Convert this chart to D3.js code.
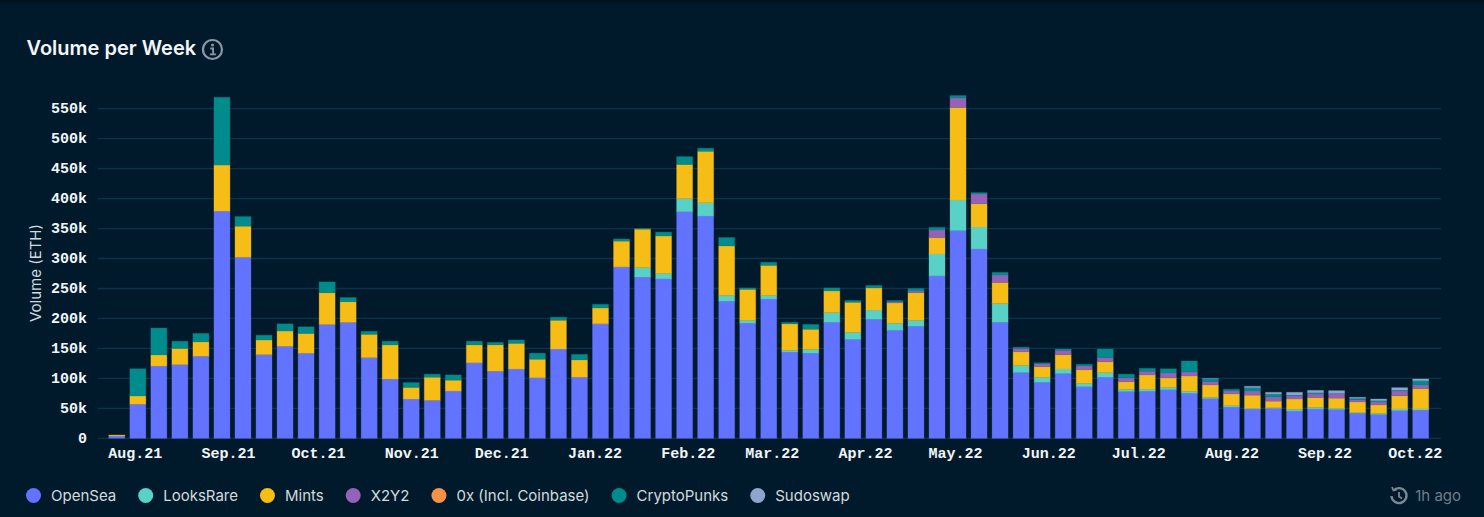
<!DOCTYPE html>
<html>
<head>
<meta charset="utf-8">
<script src="https://cdn.jsdelivr.net/npm/d3@7"></script>
<style>
    html, body { margin: 0; padding: 0; background: #001a2c; }
    svg { display: block; }
</style>
</head>
<body>
<div id="chart"></div>
<script>
// Volume per week, stacked by marketplace. All values in thousand ETH.
const firstWeek = '2021-07-26';
const seriesNames = ['OpenSea', 'LooksRare', 'Mints', 'X2Y2', '0x (Incl. Coinbase)', 'CryptoPunks', 'Sudoswap'];
const seriesColors = ['#6173ff', '#5ad1c6', '#f6bd16', '#9661b8', '#f79145', '#008c8c', '#8fa5d0'];

const openSea = [4, 57, 120.7, 123, 137, 379, 302, 139.6, 153.5, 142, 190, 193.5, 134.6, 99, 65.6, 63.4, 79, 126, 112, 115.7, 101, 149, 102, 191, 286, 269, 266, 378, 371, 228.6, 192, 232.5, 144, 142, 193.5, 165, 198.5, 180, 187, 271, 346.5, 316, 193.5, 109.6, 93.4, 108, 86, 101.8, 77.9, 78.4, 81, 75, 66, 52, 49, 50, 45.6, 49, 47.8, 41.7, 39.5, 46, 47];
const looksRare = [0, 0, 0, 0, 0, 0, 0, 0, 0, 0, 0, 0, 0, 0, 0, 0, 0, 0, 0, 0, 0, 0, 0, 0, 0, 16, 9, 22, 22, 10, 5, 6.1, 3, 6.5, 16.2, 12, 15.5, 12, 10, 36.6, 51.2, 36.6, 31.5, 12.2, 8.4, 7.7, 5.8, 7.8, 3.9, 3.6, 4, 3.4, 2.4, 2.5, 1, 1, 2.8, 2.7, 2.2, 1.3, 2.2, 3, 2];
const mints = [1.5, 13.6, 18.3, 27, 24, 77, 52, 24.4, 25.5, 33, 53, 34.5, 38.9, 57, 19.4, 38.6, 18, 30, 44, 42.8, 31, 48, 29, 26.5, 43, 64, 62.6, 57, 86, 82.4, 51.6, 50, 44, 33.5, 36.1, 50, 37, 34, 46, 27.4, 154.3, 38.9, 35, 22.8, 17.8, 23.9, 22.8, 18.4, 12.7, 23.7, 16, 25.6, 20.6, 19.5, 22, 11, 17.2, 16.3, 17, 17.6, 13.9, 22, 34];
const x2y2 = [0, 0, 0, 0, 0, 0, 0, 0, 0, 0, 0, 0, 0, 0, 0, 0, 0, 0, 0, 0, 0, 0, 0, 0, 0, 0, 0, 0, 0, 0, 0, 0, 0, 0, 0, 0, 0, 2, 2.8, 12.6, 16, 16.2, 12.5, 5.4, 5, 7.4, 6.4, 7, 6.5, 6.3, 8, 6.7, 6, 5, 7, 7, 5.4, 6, 7.5, 3.9, 5, 8, 6];
const zeroX = new Array(63).fill(0);
const cryptoPunks = [0, 45.4, 45, 12, 14, 113, 16, 8, 12, 11, 18, 7, 5, 6, 8, 5, 8.7, 6, 4, 5.5, 10, 5, 9, 6.1, 3.6, 1, 6.4, 13, 5, 14, 2.4, 5.1, 2.5, 8, 5.2, 3, 4, 2, 4.2, 4.4, 4, 2.3, 4.5, 2, 1.4, 2, 2.5, 14, 6, 4.8, 7, 18.3, 4.5, 2.8, 5.5, 5, 1.3, 2, 0.5, 2.2, 2.2, 1.6, 7];
const sudoswap = [0, 0, 0, 0, 0, 0, 0, 0, 0, 0, 0, 0, 0, 0, 0, 0, 0, 0, 0, 0, 0, 0, 0, 0, 0, 0, 0, 0, 0, 0, 0, 0, 0, 0, 0, 0, 0, 0, 0, 0, 0, 0, 0, 0, 0, 0, 0, 0, 0, 0, 0, 0, 0.5, 0, 2.3, 2.8, 4.5, 4, 4.5, 1.7, 2.8, 3.9, 3];

const yTicks = [0, 50, 100, 150, 200, 250, 300, 350, 400, 450, 500, 550];
const monthTicks = ['2021-08-01', '2021-09-01', '2021-10-01', '2021-11-01', '2021-12-01', '2022-01-01', '2022-02-01', '2022-03-01', '2022-04-01', '2022-05-01', '2022-06-01', '2022-07-01', '2022-08-01', '2022-09-01', '2022-10-01'];

const width = 1484;
const height = 517;
const BG = '#001a2c';
const GRID = '#0e3349';
const UI_FONT = 'Inter, sans-serif';
const MONO_FONT = '"Liberation Mono", monospace';

const svg = d3.select('#chart').append('svg')
    .attr('width', width)
    .attr('height', height)
    .attr('viewBox', [0, 0, width, height]);

svg.append('rect').attr('width', width).attr('height', height).attr('fill', BG);

// Faint shadow along the top edge of the card
const topShade = svg.append('defs').append('linearGradient')
    .attr('id', 'top-shade')
    .attr('x1', 0).attr('y1', 0).attr('x2', 0).attr('y2', 1);
topShade.append('stop').attr('offset', 0).attr('stop-color', '#00121d');
topShade.append('stop').attr('offset', 1).attr('stop-color', BG);
svg.append('rect').attr('width', width).attr('height', 5).attr('fill', 'url(#top-shade)');

// Weekly rows for d3.stack
const weeks = openSea.map((_, i) => {
    const d = d3.utcDay.offset(new Date(firstWeek), i * 7);
    return {
        date: d,
        'OpenSea': openSea[i],
        'LooksRare': looksRare[i],
        'Mints': mints[i],
        'X2Y2': x2y2[i],
        '0x (Incl. Coinbase)': zeroX[i],
        'CryptoPunks': cryptoPunks[i],
        'Sudoswap': sudoswap[i],
    };
});

const stacked = d3.stack().keys(seriesNames)(weeks);
const color = d3.scaleOrdinal(seriesNames, seriesColors);

const x = d3.scaleUtc()
    .domain([weeks[0].date, weeks[weeks.length - 1].date])
    .range([116.8, 1420.7]);
const y = d3.scaleLinear().domain([0, 550]).range([438.3, 108.7]);

const barWidth = 17;
const gridLeft = 98;
const gridRight = 1441;

// Gridlines
svg.append('g').selectAll('line')
    .data(yTicks)
    .join('line')
    .attr('x1', gridLeft)
    .attr('x2', gridRight)
    .attr('y1', d => y(d))
    .attr('y2', d => y(d))
    .attr('stroke', GRID)
    .attr('stroke-width', 1.3);

// Bars
svg.append('g').selectAll('g')
    .data(stacked)
    .join('g')
    .attr('fill', d => color(d.key))
    .attr('stroke', d => color(d.key))
    .attr('stroke-opacity', 0.3)
    .selectAll('rect')
    .data(d => d.filter(p => p[1] > p[0]))
    .join('rect')
    .attr('x', d => x(d.data.date) - barWidth / 2 + 0.5)
    .attr('width', barWidth - 1)
    .attr('y', d => y(d[1]))
    .attr('height', d => y(d[0]) - y(d[1]));

// Y axis
const yAxis = d3.axisLeft(y)
    .tickValues(yTicks)
    .tickSize(0)
    .tickPadding(0)
    .tickFormat(d => d === 0 ? '0' : d + 'k');

svg.append('g')
    .attr('transform', 'translate(87,-0.6)')
    .call(yAxis)
    .call(g => g.select('.domain').remove())
    .call(g => g.selectAll('text')
        .attr('fill', '#f2f5f7')
        .attr('font-family', MONO_FONT)
        .attr('font-weight', 700)
        .attr('font-size', 15));

// X axis
const xAxis = d3.axisBottom(x)
    .tickValues(monthTicks.map(d => new Date(d)))
    .tickSize(0)
    .tickPadding(0)
    .tickFormat(d3.utcFormat('%b.%y'));

svg.append('g')
    .attr('transform', 'translate(0,447)')
    .call(xAxis)
    .call(g => g.select('.domain').remove())
    .call(g => g.selectAll('text')
        .attr('fill', '#f2f5f7')
        .attr('font-family', MONO_FONT)
        .attr('font-weight', 700)
        .attr('font-size', 15));

// Y axis title
svg.append('text')
    .attr('transform', 'translate(41,273) rotate(-90)')
    .attr('text-anchor', 'middle')
    .attr('fill', '#d3dade')
    .attr('font-family', UI_FONT)
    .attr('font-size', 15)
    .text('Volume (ETH)');

// Title and info icon
svg.append('text')
    .attr('x', 26.5)
    .attr('y', 55)
    .attr('fill', '#f4f6f8')
    .attr('font-family', UI_FONT)
    .attr('font-weight', 600)
    .attr('font-size', 20)
    .text('Volume per Week');

const info = svg.append('g').attr('transform', 'translate(212.5,49.5)');
info.append('circle').attr('r', 9.5).attr('fill', 'none').attr('stroke', '#8b98a3').attr('stroke-width', 2.2);
info.append('circle').attr('cy', -4.4).attr('r', 1.5).attr('fill', '#8b98a3');
info.append('path').attr('d', 'M-2.2,-1H0.6V4.6M-2.6,4.8H3.4').attr('fill', 'none').attr('stroke', '#8b98a3').attr('stroke-width', 1.8);

// Legend
const legend = svg.append('g').attr('transform', 'translate(26,495.5)');
let legendX = 0;
seriesNames.forEach(name => {
    const item = legend.append('g').attr('transform', `translate(${legendX},0)`);
    item.append('circle').attr('cx', 7.5).attr('r', 7.5).attr('fill', color(name));
    const label = item.append('text')
        .attr('x', 25)
        .attr('dy', '0.35em')
        .attr('fill', '#d3dade')
        .attr('font-family', UI_FONT)
        .attr('font-size', 15)
        .text(name);
    legendX += 25 + label.node().getComputedTextLength() + 22;
});

// Updated-at stamp
const clock = svg.append('g').attr('transform', 'translate(1399,496)');
clock.append('path')
    .attr('d', 'M-5.5,-5.5A7.5,7.5 0 1 1 -7.5,0')
    .attr('fill', 'none').attr('stroke', '#7b8893').attr('stroke-width', 2.4);
clock.append('path')
    .attr('d', 'M-7,-9L-5.5,-5.5L-2,-6.5M0,-4V0.5L3,2.5')
    .attr('fill', 'none').attr('stroke', '#7b8893').attr('stroke-width', 1.8);
svg.append('text')
    .attr('x', 1461)
    .attr('y', 496)
    .attr('dy', '0.35em')
    .attr('text-anchor', 'end')
    .attr('fill', '#6f7d88')
    .attr('font-family', UI_FONT)
    .attr('font-size', 15)
    .text('1h ago');
</script>
</body>
</html>
